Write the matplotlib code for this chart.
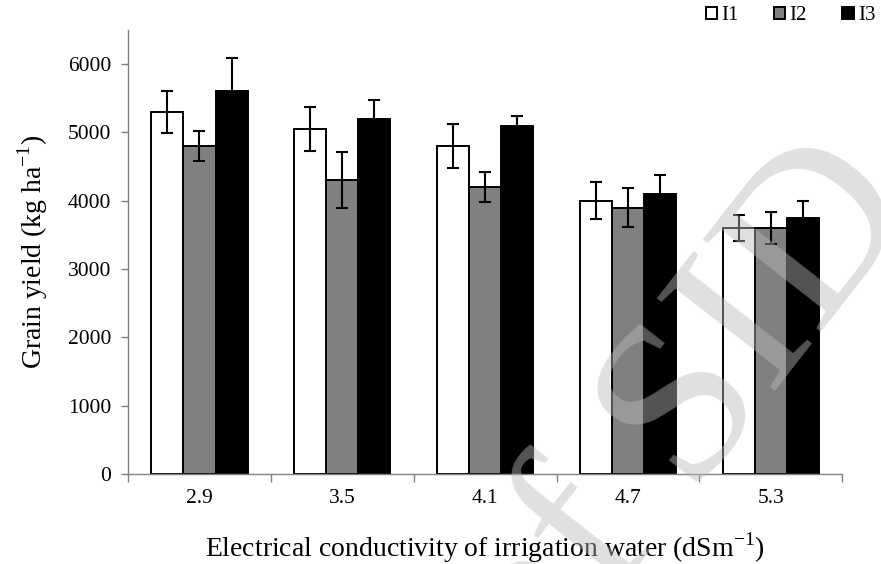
import numpy as np
import matplotlib.pyplot as plt

# data
ec_levels = ['2.9', '3.5', '4.1', '4.7', '5.3']
series = ['I1', 'I2', 'I3']
i1 = [5300, 5050, 4800, 4000, 3600]
i2 = [4800, 4300, 4200, 3900, 3600]
i3 = [5600, 5200, 5100, 4100, 3750]
i1_err = [310, 320, 320, 275, 185]
i2_err = [215, 410, 215, 280, 240]
i3_err = [490, 270, 140, 270, 240]

plt.rcParams['font.family'] = ['Liberation Serif', 'DejaVu Serif']

fig = plt.figure(figsize=(8.81, 5.64), dpi=100)
ax = fig.add_axes([0.1453, 0.1596, 0.8107, 0.7874])

x = np.arange(len(ec_levels))
w = 0.225
colors = ['white', '#808080', 'black']
vals = [i1, i2, i3]
errs = [i1_err, i2_err, i3_err]
for k in range(3):
  ax.bar(x + (k-1)*w, vals[k], w, color=colors[k], edgecolor='black',
         linewidth=1.4, label=series[k], zorder=2)
  ax.errorbar(x + (k-1)*w, vals[k], yerr=errs[k], fmt='none', ecolor='black',
              elinewidth=1.5, capsize=4.3, capthick=1.5, zorder=3)

ax.set_xlim(-0.5, len(ec_levels)-0.5)
ax.set_ylim(0, 6500)
ax.set_yticks(np.arange(0, 6001, 1000))
ax.set_xticks(x)
ax.set_xticklabels(ec_levels)
ax.set_xticks(np.arange(-0.5, len(ec_levels), 1), minor=True)
ax.tick_params(axis='x', which='major', length=0, pad=11, labelsize=15.5)
ax.tick_params(axis='x', which='minor', length=6, color='#808080', width=1)
ax.tick_params(axis='y', length=5, color='#808080', width=1, labelsize=15.5, pad=7)

for s in ['top', 'right']:
  ax.spines[s].set_visible(False)
for s in ['left', 'bottom']:
  ax.spines[s].set_color('#808080')
  ax.spines[s].set_linewidth(1)

ax.set_ylabel('Grain yield (kg ha$^{\\mathregular{-1}}$)', fontsize=20, labelpad=13)
ax.set_xlabel('Electrical conductivity of irrigation water (dSm$^{\\mathregular{-1}}$)',
              fontsize=20, labelpad=16)

leg = fig.legend(loc='upper right', bbox_to_anchor=(1.015, 1.022), ncol=3, frameon=False,
                 fontsize=15, handlelength=0.55, handleheight=0.55, handletextpad=0.2,
                 columnspacing=1.7)

# faint watermark from the scanned source
fig.text(0.779, 0.263, 'of SID', fontsize=165, rotation=52, color='#bababa',
         alpha=0.45, ha='center', va='center', rotation_mode='anchor', zorder=10)

fig.savefig('out.png', dpi=100)
